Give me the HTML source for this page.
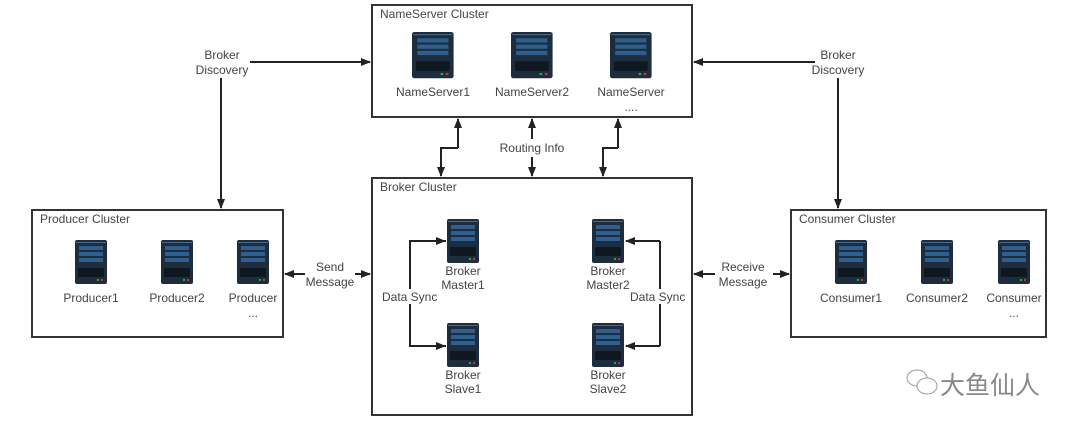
<!DOCTYPE html>
<html><head><meta charset="utf-8"><style>
body{margin:0;background:#fff;}
svg text{font-family:"Liberation Sans","Noto Sans CJK SC",sans-serif;fill:#444;font-size:12px;}
</style></head><body>
<svg width="1080" height="433" viewBox="0 0 1080 433" xmlns="http://www.w3.org/2000/svg">
<defs>
<marker id="a" markerWidth="10" markerHeight="8" refX="9" refY="4" orient="auto" markerUnits="userSpaceOnUse"><path d="M0,0 L10,4 L0,8 z" fill="#222"/></marker>
<g id="srv">
<rect x="0" y="0" width="32" height="44" rx="2" fill="#1d2d3d"/>
<rect x="1" y="2" width="30" height="1" fill="#4a6a88"/>
<rect x="4" y="6" width="24" height="4" fill="#2f5f8f"/>
<rect x="4" y="12" width="24" height="4" fill="#2f5f8f"/>
<rect x="4" y="18" width="24" height="4" fill="#2f5f8f"/>
<rect x="3" y="28" width="26" height="9" fill="#0f1820"/>
<rect x="22" y="39" width="2" height="2" fill="#3a3"/>
<rect x="26" y="39" width="2" height="2" fill="#c33"/>
</g>
</defs>
<g fill="none" stroke="#333" stroke-width="2">
<rect x="372" y="5" width="320" height="112"/>
<rect x="372" y="178" width="320" height="237"/>
<rect x="32" y="210" width="251" height="127"/>
<rect x="791" y="210" width="255" height="127"/>
</g>
<text x="380" y="18">NameServer Cluster</text>
<text x="380" y="191">Broker Cluster</text>
<text x="40" y="223">Producer Cluster</text>
<text x="799" y="223">Consumer Cluster</text>
<use href="#srv" transform="translate(412,32) scale(1.3,1.05)"/>
<use href="#srv" transform="translate(511,32) scale(1.3,1.05)"/>
<use href="#srv" transform="translate(610,32) scale(1.3,1.05)"/>
<text x="433" y="96" text-anchor="middle">NameServer1</text>
<text x="532" y="96" text-anchor="middle">NameServer2</text>
<text x="631" y="96" text-anchor="middle">NameServer</text>
<text x="631" y="111" text-anchor="middle" font-size="7">....</text>
<use href="#srv" transform="translate(75,240)"/>
<use href="#srv" transform="translate(161,240)"/>
<use href="#srv" transform="translate(237,240)"/>
<text x="91" y="302" text-anchor="middle">Producer1</text>
<text x="177" y="302" text-anchor="middle">Producer2</text>
<text x="253" y="302" text-anchor="middle">Producer</text>
<text x="253" y="317" text-anchor="middle" font-size="7">...</text>
<use href="#srv" transform="translate(835,240)"/>
<use href="#srv" transform="translate(921,240)"/>
<use href="#srv" transform="translate(998,240)"/>
<text x="851" y="302" text-anchor="middle">Consumer1</text>
<text x="937" y="302" text-anchor="middle">Consumer2</text>
<text x="1014" y="302" text-anchor="middle">Consumer</text>
<text x="1014" y="317" text-anchor="middle" font-size="7">...</text>
<use href="#srv" transform="translate(447,219)"/>
<use href="#srv" transform="translate(592,219)"/>
<use href="#srv" transform="translate(447,323)"/>
<use href="#srv" transform="translate(592,323)"/>
<text x="463" y="275" text-anchor="middle">Broker</text>
<text x="463" y="289" text-anchor="middle">Master1</text>
<text x="608" y="275" text-anchor="middle">Broker</text>
<text x="608" y="289" text-anchor="middle">Master2</text>
<text x="463" y="379" text-anchor="middle">Broker</text>
<text x="463" y="393" text-anchor="middle">Slave1</text>
<text x="608" y="379" text-anchor="middle">Broker</text>
<text x="608" y="393" text-anchor="middle">Slave2</text>
<g fill="none" stroke="#222" stroke-width="2">
<path d="M446,241 H410 V346 H446"/>
<path d="M410,241 H445" marker-end="url(#a)"/>
<path d="M410,346 H445" marker-end="url(#a)"/>
<path d="M660,241 V346"/>
<path d="M660,241 H626" marker-end="url(#a)"/>
<path d="M660,346 H626" marker-end="url(#a)"/>
<path d="M250,62 H370" marker-end="url(#a)"/>
<path d="M221,78 V208" marker-end="url(#a)"/>
<path d="M815,62 H694" marker-end="url(#a)"/>
<path d="M838,78 V208" marker-end="url(#a)"/>
<path d="M458,148 V119" marker-end="url(#a)"/>
<path d="M458,148 H441 V176" marker-end="url(#a)"/>
<path d="M532,139 V119" marker-end="url(#a)"/>
<path d="M532,157 V176" marker-end="url(#a)"/>
<path d="M618,148 V119" marker-end="url(#a)"/>
<path d="M618,148 H603 V176" marker-end="url(#a)"/>
<path d="M305,274 H285" marker-end="url(#a)"/>
<path d="M355,274 H370" marker-end="url(#a)"/>
<path d="M715,274 H694" marker-end="url(#a)"/>
<path d="M773,274 H789" marker-end="url(#a)"/>
</g>
<rect x="380" y="289" width="60" height="15" fill="#fff"/>
<text x="382" y="301">Data Sync</text>
<rect x="628" y="289" width="60" height="15" fill="#fff"/>
<text x="630" y="301">Data Sync</text>
<text x="532" y="152" text-anchor="middle">Routing Info</text>
<text x="222" y="59" text-anchor="middle">Broker</text>
<text x="222" y="74" text-anchor="middle">Discovery</text>
<text x="838" y="59" text-anchor="middle">Broker</text>
<text x="838" y="74" text-anchor="middle">Discovery</text>
<text x="330" y="271" text-anchor="middle">Send</text>
<text x="330" y="286" text-anchor="middle">Message</text>
<text x="743" y="271" text-anchor="middle">Receive</text>
<text x="743" y="286" text-anchor="middle">Message</text>
<g fill="none" stroke="#999" stroke-width="1">
<ellipse cx="917" cy="378" rx="10" ry="8"/>
<ellipse cx="927" cy="386" rx="10" ry="8" fill="#fff"/>
</g>
<text x="940" y="394" style="font-size:25px;fill:#888">大鱼仙人</text>
</svg>
</body></html>
